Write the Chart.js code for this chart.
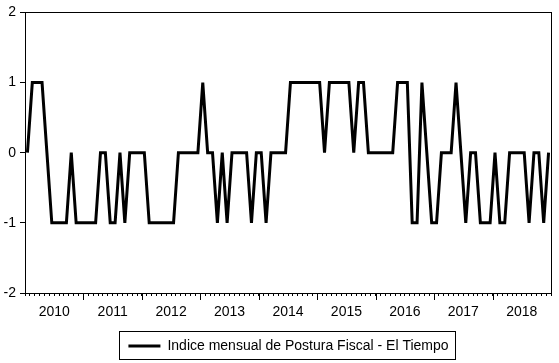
<!DOCTYPE html>
<html>
<head>
<meta charset="utf-8">
<script src="https://cdn.jsdelivr.net/npm/chart.js@4/dist/chart.umd.min.js"></script>
<style>
    html, body { margin: 0; padding: 0; background: #fff; }
    #wrap { width: 559px; height: 363px; }
</style>
</head>
<body>
<div id="wrap"><canvas id="posturaChart"></canvas></div>
<script>
// monthly values, 2010M01 - 2018M12
var posturaValues = [
    0, 1, 1, 1, 0, -1, -1, -1, -1, 0, -1, -1,
    -1, -1, -1, 0, 0, -1, -1, 0, -1, 0, 0, 0,
    0, -1, -1, -1, -1, -1, -1, 0, 0, 0, 0, 0,
    1, 0, 0, -1, 0, -1, 0, 0, 0, 0, -1, 0,
    0, -1, 0, 0, 0, 0, 1, 1, 1, 1, 1, 1,
    1, 0, 1, 1, 1, 1, 1, 0, 1, 1, 0, 0,
    0, 0, 0, 0, 1, 1, 1, -1, -1, 1, 0, -1,
    -1, 0, 0, 0, 1, 0, -1, 0, 0, -1, -1, -1,
    0, -1, -1, 0, 0, 0, 0, -1, 0, 0, -1, 0
];
var yearLabels = ['2010', '2011', '2012', '2013', '2014', '2015', '2016', '2017', '2018'];
var yTicks = [-2, -1, 0, 1, 2];
var seriesName = 'Indice mensual de Postura Fiscal - El Tiempo';

var points = new Array();
for (var i = 0; i < posturaValues.length; i++) {
    points.push({ x: i, y: posturaValues[i] });
}

Chart.defaults.font.family = "'Liberation Sans', Arial, sans-serif";
Chart.defaults.color = '#000';

// box around plot, longer year ticks, frame around legend
var framePlugin = {
    id: 'framePlugin',
    afterUpdate: function (chart) {
        // center the legend under the plot area instead of the canvas
        var lg = chart.legend;
        var a = chart.chartArea;
        var shift = Math.round((a.left + a.right) / 2 - (lg.left + lg.right) / 2);
        lg.left += shift;
        lg.right += shift;
        lg.legendHitBoxes.forEach(function (hb) { hb.left += shift; });
    },
    afterDraw: function (chart) {
        var ctx = chart.ctx;
        var a = chart.chartArea;
        var xs = chart.scales.x;
        ctx.save();
        ctx.strokeStyle = '#000';
        ctx.lineWidth = 1;
        ctx.strokeRect(Math.round(a.left) + 0.5, Math.round(a.top) + 0.5,
            Math.round(a.right - a.left), Math.round(a.bottom - a.top));

        ctx.beginPath();
        for (var k = 1; k < yearLabels.length; k++) {
            var px = Math.round(xs.getPixelForValue(k * 12 - 0.5)) + 0.5;
            ctx.moveTo(px, a.bottom);
            ctx.lineTo(px, a.bottom + 7);
        }
        ctx.stroke();

        var hb = chart.legend.legendHitBoxes[0];
        if (hb) {
            ctx.strokeRect(Math.round(hb.left) - 8.5, Math.round(hb.top) - 7.5,
                Math.round(hb.width) + 16, Math.round(hb.height) + 14);
        }
        ctx.restore();
    }
};

new Chart(document.getElementById('posturaChart').getContext('2d'), {
    type: 'line',
    data: {
        datasets: [{
            label: seriesName,
            data: points,
            borderColor: '#000',
            backgroundColor: '#000',
            borderWidth: 3,
            pointRadius: 0,
            tension: 0
        }]
    },
    options: {
        responsive: true,
        maintainAspectRatio: false,
        animation: false,
        layout: {
            padding: { left: 0, right: 6, top: 9, bottom: 0 }
        },
        scales: {
            x: {
                type: 'linear',
                min: -0.5,
                max: 107.5,
                afterBuildTicks: function (axis) {
                    var t = [];
                    for (var v = -0.5; v <= 107.5; v += 1) {
                        t.push({ value: v });
                    }
                    axis.ticks = t;
                },
                afterFit: function (axis) {
                    axis.height = 38;
                },
                grid: {
                    drawOnChartArea: false,
                    drawTicks: true,
                    tickLength: 3,
                    tickColor: '#000'
                },
                border: { color: '#000' },
                ticks: {
                    autoSkip: false,
                    maxRotation: 0,
                    padding: 8,
                    font: { size: 14 },
                    callback: function (value) {
                        var m = value + 0.5;
                        if (m % 12 === 6) {
                            return yearLabels[(m - 6) / 12];
                        }
                        return '';
                    }
                }
            },
            y: {
                min: -2,
                max: 2,
                afterBuildTicks: function (axis) {
                    axis.ticks = yTicks.map(function (v) { return { value: v }; });
                },
                afterFit: function (axis) {
                    axis.width = 25;
                },
                grid: {
                    drawOnChartArea: false,
                    drawTicks: true,
                    tickLength: 5,
                    tickColor: '#000'
                },
                border: { color: '#000' },
                ticks: {
                    padding: 4,
                    font: { size: 14 }
                }
            }
        },
        plugins: {
            legend: {
                position: 'bottom',
                labels: {
                    usePointStyle: true,
                    pointStyle: 'line',
                    pointStyleWidth: 32,
                    boxHeight: 14,
                    padding: 8,
                    font: { size: 14 },
                    color: '#000'
                }
            },
            tooltip: { enabled: false }
        }
    },
    plugins: [framePlugin]
});
</script>
</body>
</html>
